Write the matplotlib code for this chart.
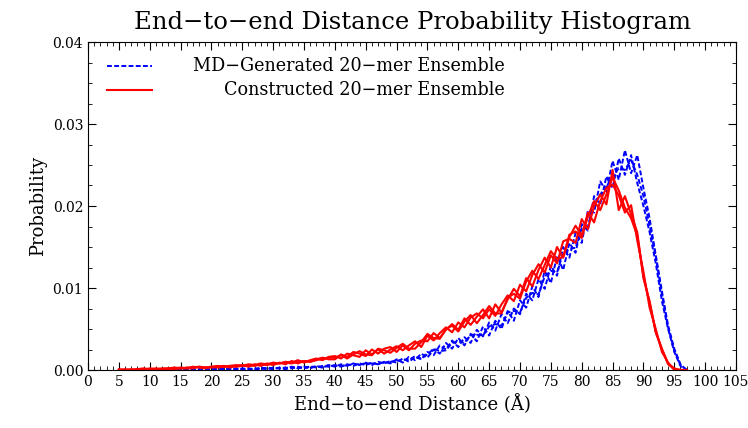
import numpy as np
import matplotlib
matplotlib.use("Agg")
from matplotlib import pyplot as plt
from matplotlib.ticker import MultipleLocator

# bin centres (Angstrom), 1 A bins from 5 to 97
dist = np.arange(5, 98)

# probabilities in units of 1e-4
red1 = [0, 1, 0, 1, 2, 1, 1, 2, 2, 3,
        2, 3, 3, 4, 3, 4, 5, 4, 5, 6,
        5, 7, 6, 8, 7, 9, 8, 10, 9, 12,
        9, 12, 14, 12, 16,
        17, 14, 20, 18, 16, 24, 19, 25, 20, 25,
        29, 24, 30, 35, 28,
        42, 36, 45, 52, 46, 58, 52, 64, 69, 63,
        74, 66, 80, 91, 84, 104, 96, 116, 129, 119,
        140, 130, 157, 160, 155, 184, 172, 200, 214, 202,
        244, 195, 212, 190,
        168, 112, 84, 46, 26, 7, 1, 0, 0]
red2 = [0, 0, 1, 0, 1, 1, 2, 1, 1, 2,
        3, 2, 2, 4, 3, 3, 4, 5, 3, 5,
        6, 4, 7, 5, 8, 6, 9, 7, 11, 8,
        11, 10, 13, 15, 13,
        13, 19, 16, 22, 20, 17, 25, 20, 26, 28,
        22, 30, 24, 32, 36,
        35, 45, 39, 49, 56, 49, 63, 55, 65, 74,
        63, 80, 70, 86, 99, 90, 112, 102, 122, 137,
        125, 150, 137, 162, 176, 164, 192, 180, 206, 222,
        226, 213, 192, 201,
        158, 120, 76, 50, 22, 9, 0, 0, 0]
red3 = [1, 0, 0, 1, 0, 2, 1, 1, 2, 1,
        2, 2, 4, 3, 2, 4, 3, 4, 5, 4,
        5, 6, 5, 7, 6, 8, 8, 9, 8, 10,
        11, 10, 12, 14, 15,
        15, 18, 14, 19, 23, 19, 18, 26, 24, 21,
        27, 32, 26, 26, 34,
        44, 39, 38, 50, 54, 47, 59, 67, 57, 67,
        78, 69, 69, 88, 93, 87, 108, 121, 111, 128,
        145, 135, 138, 165, 169, 161, 187, 206, 195, 214,
        235, 219, 198, 185,
        164, 114, 82, 46, 25, 8, 2, 0, 0]

blue1 = [0, 0, 0, 0, 0, 0, 0, 0, 0, 0,
         0, 0, 1, 0, 0, 1, 0, 2, 1, 0,
         2, 1, 0, 3, 2, 1, 3, 2, 4, 2,
         4, 2, 5, 3, 6, 4, 7, 5, 8, 6,
         9, 6, 10, 8, 11,
         9, 14, 10, 16, 13, 22, 18, 30, 25, 36,
         28, 40, 33, 49, 41, 58, 48, 68, 57, 75,
         68, 93, 85, 111, 99, 127, 115, 150, 137, 167,
         155, 194,
         192, 230, 218, 255, 232, 268, 240, 262, 222, 185,
         140, 96, 54, 26, 7, 0]
blue2 = [0, 0, 0, 0, 0, 0, 0, 0, 0, 0,
         0, 0, 0, 0, 1, 0, 2, 1, 1, 2,
         0, 2, 1, 1, 3, 2, 2, 3, 2, 4,
         2, 4, 3, 5, 4, 6, 4, 7, 5, 8,
         6, 9, 7, 10, 8,
         13, 9, 16, 12, 20, 15, 25, 20, 33, 26,
         39, 30, 44, 35, 53, 42, 60, 50, 72, 60,
         85, 76, 102, 89, 121, 106, 139, 122, 155, 143,
         178, 170,
         212, 202, 236, 222, 258, 238, 262, 228, 200, 168,
         130, 84, 50, 22, 5, 0]
blue3 = [0, 0, 0, 0, 0, 0, 0, 0, 0, 0,
         0, 1, 0, 1, 0, 1, 1, 0, 2, 1,
         1, 0, 2, 2, 1, 3, 2, 1, 3, 3,
         3, 4, 4, 3, 6, 5, 5, 6, 7, 7,
         8, 8, 7, 9, 10,
         11, 13, 12, 17, 14, 19, 26, 23, 24, 33,
         35, 33, 43, 43, 42, 53, 56, 54, 70, 72,
         70, 88, 94, 92, 114, 121, 119, 143, 148, 149,
         173, 176,
         200, 214, 224, 236, 246, 244, 256, 238, 212, 176,
         138, 92, 52, 24, 6, 0]

md_runs = [blue1, blue2, blue3]
built_runs = [red1, red2, red3]

plt.rcParams['font.family'] = ['DejaVu Serif']

fig = plt.figure(figsize=(7.48, 4.28), dpi=100)
ax = fig.add_axes([88 / 748, 58 / 428, 648 / 748, 328 / 428])

dash = (0, (2.5, 1.2))
for run in md_runs:
    ax.plot(dist, np.array(run) * 1e-4, color='blue', ls=dash, lw=1.4)
for run in built_runs:
    ax.plot(dist, np.array(run) * 1e-4, color='red', lw=1.5)

ax.set_xlim(0, 105)
ax.set_ylim(0, 0.04)
ax.xaxis.set_major_locator(MultipleLocator(5))
ax.xaxis.set_minor_locator(MultipleLocator(1))
ax.yaxis.set_major_locator(MultipleLocator(0.01))
ax.yaxis.set_minor_locator(MultipleLocator(0.0025))
ax.yaxis.set_major_formatter(plt.FormatStrFormatter('%.2f'))
ax.tick_params(which='both', direction='in', top=True, right=True, labelsize=10)
ax.tick_params(which='major', length=6)
ax.tick_params(which='minor', length=3)

ax.set_title('End\u2212to\u2212end Distance Probability Histogram', fontsize=17.5, pad=9)
ax.set_xlabel('End\u2212to\u2212end Distance (\u00c5)', fontsize=13)
ax.set_ylabel('Probability', fontsize=13)

# legend drawn by hand so the labels can be right aligned like the original
ax.plot([0.029, 0.099], [0.927, 0.927], transform=ax.transAxes, color='blue', ls=dash, lw=1.4)
ax.plot([0.029, 0.099], [0.854, 0.854], transform=ax.transAxes, color='red', lw=1.5)
ax.text(0.643, 0.927, 'MD\u2212Generated 20\u2212mer Ensemble', transform=ax.transAxes,
        ha='right', va='center', fontsize=12.7)
ax.text(0.643, 0.854, 'Constructed 20\u2212mer Ensemble', transform=ax.transAxes,
        ha='right', va='center', fontsize=12.7)

fig.savefig('out.png', dpi=100)
